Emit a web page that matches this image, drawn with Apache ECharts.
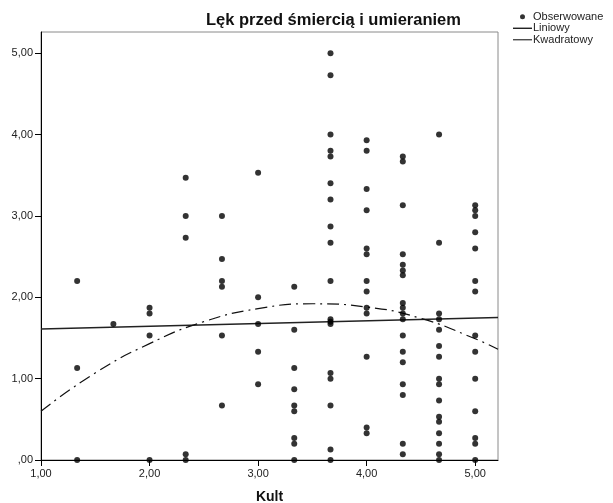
<!DOCTYPE html>
<html>
<head>
<meta charset="utf-8">
<script src="https://cdn.jsdelivr.net/npm/echarts@6/dist/echarts.min.js"></script>
<style>
html,body{margin:0;padding:0;background:#fff;}
#c{width:613px;height:503px;}
</style>
</head>
<body>
<div id="c"></div>
<script>
// ---- data ----
var kultLevels = [1.333, 1.667, 2.0, 2.333, 2.667, 3.0, 3.333, 3.667, 4.0, 4.333, 4.667, 5.0];
var obs_1_33 = [2.20, 1.13, 0.00];
var obs_1_67 = [1.67];
var obs_2_00 = [1.87, 1.80, 1.53, 0.00];
var obs_2_33 = [3.47, 3.00, 2.73, 0.07, 0.00];
var obs_2_67 = [3.00, 2.47, 2.20, 2.13, 1.53, 0.67];
var obs_3_00 = [3.53, 2.00, 1.67, 1.33, 0.93];
var obs_3_33 = [2.13, 1.60, 1.13, 0.87, 0.67, 0.60, 0.27, 0.20, 0.00];
var obs_3_67 = [5.00, 4.73, 4.00, 3.80, 3.73, 3.40, 3.20, 2.87, 2.67, 2.20, 1.73, 1.70, 1.67, 1.07, 1.00, 0.67, 0.13, 0.00];
var obs_4_00 = [3.93, 3.80, 3.33, 3.07, 2.60, 2.53, 2.20, 2.07, 1.87, 1.80, 1.27, 0.40, 0.33];
var obs_4_33 = [3.73, 3.67, 3.13, 2.53, 2.40, 2.33, 2.27, 1.93, 1.87, 1.80, 1.73, 1.53, 1.33, 1.20, 0.93, 0.80, 0.20, 0.07];
var obs_4_67 = [4.00, 2.67, 1.80, 1.73, 1.60, 1.40, 1.27, 1.00, 0.93, 0.73, 0.53, 0.47, 0.33, 0.20, 0.07, 0.00];
var obs_5_00 = [3.13, 3.07, 3.00, 2.80, 2.60, 2.20, 2.07, 1.53, 1.33, 1.00, 0.60, 0.27, 0.20, 0.00];
var observedColumns = [obs_1_33, obs_1_67, obs_2_00, obs_2_33, obs_2_67, obs_3_00, obs_3_33, obs_3_67, obs_4_00, obs_4_33, obs_4_67, obs_5_00];

var linearX = [1.00, 5.21];
var linearY = [1.61, 1.75];
var quadX = [1.00, 1.50, 2.00, 2.50, 3.00, 3.50, 4.00, 4.50, 5.00, 5.21];
var quadY = [0.60, 1.07, 1.43, 1.70, 1.86, 1.92, 1.88, 1.74, 1.49, 1.36];

var xTicks = [1, 2, 3, 4, 5];
var yTicks = [0, 1, 2, 3, 4, 5];
var titleText = 'Lęk przed śmiercią i umieraniem';
var xName = 'Kult';
var legendNames = ['Obserwowane', 'Liniowy', 'Kwadratowy'];

// ---- build series data ----
var scatterData = [];
kultLevels.forEach(function (x, i) {
  observedColumns[i].forEach(function (y) { scatterData.push([x, y]); });
});
function zip(a, b) { return a.map(function (v, i) { return [v, b[i]]; }); }

function fmt(v) {
  var s = v.toFixed(2).replace('.', ',');
  return s === '0,00' ? ',00' : s;
}

var FONT = 'Liberation Sans, Arial, sans-serif';
var chart = echarts.init(document.getElementById('c'), null, { renderer: 'canvas' });
chart.setOption({
  animation: false,
  backgroundColor: '#fff',
  title: {
    text: titleText,
    left: 201, top: 7,
    textStyle: { fontFamily: FONT, fontSize: 16.5, fontWeight: 'bold', color: '#111' }
  },
  legend: {
    orient: 'vertical',
    left: 508, top: 6,
    itemWidth: 19, itemHeight: 5, itemGap: 0,
    symbolKeepAspect: true,
    textStyle: { fontFamily: FONT, fontSize: 11, color: '#222', lineHeight: 11.5, padding: [0, 0, 0, -4] },
    data: [
      { name: legendNames[0], icon: 'circle', itemStyle: { color: '#000' } },
      { name: legendNames[1], icon: 'path://M0,0h20v1.3h-20z', itemStyle: { color: '#000' } },
      { name: legendNames[2], icon: 'path://M0,0h20v1.3h-20z', itemStyle: { color: '#333' } }
    ]
  },
  grid: { left: 41, right: 115, top: 32, bottom: 43, outerBoundsMode: 'none', containLabel: false,
          show: true, borderColor: '#8a8a8a', borderWidth: 1, backgroundColor: '#fff' },
  xAxis: {
    type: 'value', min: 1, max: 5.21,
    name: xName, nameLocation: 'middle', nameGap: 30,
    nameTextStyle: { fontFamily: FONT, fontSize: 14, fontWeight: 'bold', color: '#111' },
    axisLine: { show: true, onZero: false, lineStyle: { color: '#000', width: 1 } },
    axisTick: { show: true, length: 6, customValues: xTicks, lineStyle: { color: '#000' } },
    axisLabel: { customValues: xTicks, formatter: fmt, margin: 8, fontFamily: FONT, fontSize: 11, color: '#222' },
    splitLine: { show: false }
  },
  yAxis: {
    type: 'value', min: 0, max: 5.26,
    axisLine: { show: true, onZero: false, lineStyle: { color: '#000', width: 1 } },
    axisTick: { show: true, length: 6, customValues: yTicks, lineStyle: { color: '#000' } },
    axisLabel: { customValues: yTicks, formatter: fmt, margin: 8, fontFamily: FONT, fontSize: 11, color: '#222' },
    splitLine: { show: false }
  },
  series: [
    {
      name: legendNames[0], type: 'scatter', data: scatterData,
      symbol: 'circle', symbolSize: 6, itemStyle: { color: '#000' }, z: 3
    },
    {
      name: legendNames[1], type: 'line', data: zip(linearX, linearY),
      showSymbol: false, symbol: 'none', lineStyle: { color: '#222', width: 1.5 }, itemStyle: { color: '#000' }, z: 2
    },
    {
      name: legendNames[2], type: 'line', data: zip(quadX, quadY), smooth: true,
      showSymbol: false, symbol: 'none', lineStyle: { color: '#111', width: 1.2, type: [12, 5, 2, 5] }, itemStyle: { color: '#333' }, z: 2
    }
  ]
});
</script>
</body>
</html>
